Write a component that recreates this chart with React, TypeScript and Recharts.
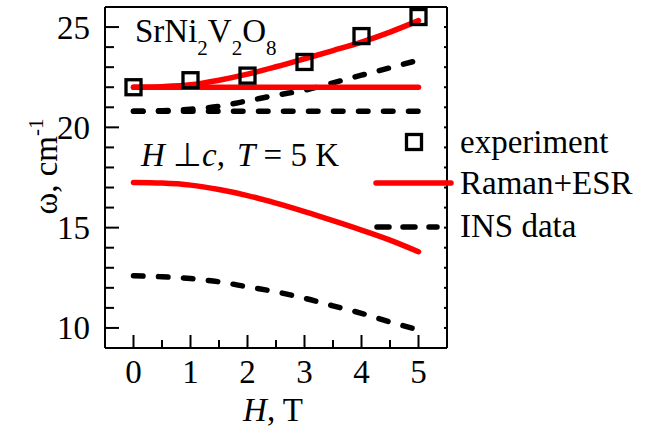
import { ComposedChart, Line, ReferenceLine, Scatter, XAxis, YAxis } from "recharts";

const FONT = "'Liberation Serif', 'Times New Roman', serif";
const RED = "#ff0000";

// experiment (open squares)
const expField = [0, 1, 2, 3, 4, 5];
const expOmega = [22.0, 22.35, 22.58, 23.26, 24.55, 25.5];

// model curves, sampled every 0.5 T
const curveField = [0, 0.5, 1, 1.5, 2, 2.5, 3, 3.5, 4, 4.5, 5];
const ramanUpper = [22.0, 22.03, 22.12, 22.35, 22.65, 23.02, 23.42, 23.83, 24.25, 24.75, 25.32];
const ramanMiddle = [22.0, 22.0, 22.0, 22.0, 22.0, 22.0, 22.0, 22.0, 22.0, 22.0, 22.0];
const ramanLower = [17.25, 17.22, 17.12, 16.9, 16.6, 16.22, 15.8, 15.35, 14.88, 14.38, 13.8];
const insUpper = [20.8, 20.83, 20.9, 21.05, 21.32, 21.6, 21.85, 22.22, 22.6, 22.97, 23.35];
const insMiddle = [20.8, 20.8, 20.8, 20.8, 20.8, 20.8, 20.8, 20.8, 20.8, 20.8, 20.8];
const insLower = [12.6, 12.55, 12.46, 12.3, 12.05, 11.8, 11.48, 11.1, 10.73, 10.3, 9.9];

// axes
const xTicks = [0, 0.5, 1, 1.5, 2, 2.5, 3, 3.5, 4, 4.5, 5];
const yTicks = [10, 11, 12, 13, 14, 15, 16, 17, 18, 19, 20, 21, 22, 23, 24, 25];

const toPoints = (ys: number[]) => curveField.map((h, i) => ({ h, w: ys[i] }));
const expData = expField.map((h, i) => ({ h, w: expOmega[i] }));

const ramanCurves = [ramanUpper, ramanMiddle, ramanLower];
const insCurves = [insUpper, insMiddle, insLower];

function BottomTick(props: any) {
    const { x, y, payload } = props;
    const major = Number.isInteger(payload.value);
    return (
        <g>
            <line x1={x} x2={x} y1={y} y2={y - (major ? 13 : 8)} stroke="#000" strokeWidth={2} />
            {major && (
                <text x={x} y={y + 35} textAnchor="middle" fontFamily={FONT} fontSize={33} fill="#000">
                    {payload.value}
                </text>
            )}
        </g>
    );
}

function LeftTick(props: any) {
    const { x, y, payload } = props;
    const major = payload.value % 5 === 0;
    return (
        <g>
            <line x1={x} x2={x + (major ? 14 : 9)} y1={y} y2={y} stroke="#000" strokeWidth={2} />
            {major && (
                <text x={x - 15} y={y} dy="0.35em" textAnchor="end" fontFamily={FONT} fontSize={33} fill="#000">
                    {payload.value}
                </text>
            )}
        </g>
    );
}

function RightTick(props: any) {
    const { x, y } = props;
    return <line x1={x} x2={x - 3} y1={y} y2={y} stroke="#000" strokeWidth={2} />;
}

function XTitle(props: any) {
    const vb = props.viewBox;
    return (
        <text x={vb.x + vb.width / 2 - 3} y={vb.y + 73} textAnchor="middle" fontFamily={FONT} fontSize={33} fill="#000">
            <tspan fontStyle="italic">H</tspan>, T
        </text>
    );
}

function YTitle(props: any) {
    const vb = props.viewBox;
    const x = vb.x + 12;
    const y = vb.y + vb.height / 2 - 11;
    return (
        <text x={x} y={y} transform={`rotate(-90, ${x}, ${y})`} textAnchor="middle" fontFamily={FONT} fontSize={33} fill="#000">
            ω, cm<tspan dy={-14} fontSize={21}>-1</tspan>
        </text>
    );
}

function SquareMark(props: any) {
    const { cx, cy } = props;
    return <rect x={cx - 7.5} y={cy - 7.5} width={15} height={15} fill="none" stroke="#000" strokeWidth={3.3} />;
}

export default function App() {
    return (
        <div style={{ position: "absolute", left: 0, top: 0, width: 646, height: 429, background: "#fff" }}>
            <ComposedChart width={646} height={429} margin={{ top: 7, right: 189, bottom: 41, left: 45 }}>
                <XAxis
                    dataKey="h"
                    type="number"
                    domain={[-0.5, 5.5]}
                    ticks={xTicks}
                    allowDataOverflow
                    height={40}
                    tickSize={0}
                    tickMargin={0}
                    tickLine={false}
                    axisLine={{ stroke: "#000", strokeWidth: 2 }}
                    tick={<BottomTick />}
                    interval={0}
                    label={{ content: XTitle }}
                />
                <YAxis
                    type="number"
                    domain={[9, 26]}
                    ticks={yTicks}
                    allowDataOverflow
                    width={60}
                    tickSize={0}
                    tickMargin={0}
                    tickLine={false}
                    axisLine={{ stroke: "#000", strokeWidth: 2 }}
                    tick={<LeftTick />}
                    interval={0}
                    label={{ content: YTitle }}
                />
                <YAxis
                    yAxisId="right"
                    orientation="right"
                    type="number"
                    domain={[9, 26]}
                    ticks={yTicks}
                    allowDataOverflow
                    width={10}
                    tickSize={0}
                    tickMargin={0}
                    tickLine={false}
                    axisLine={{ stroke: "#000", strokeWidth: 2 }}
                    tick={<RightTick />}
                    interval={0}
                />
                <ReferenceLine y={26} stroke="#000" strokeWidth={2} />
                {insCurves.map((ys, i) => (
                    <Line
                        key={`ins-${i}`}
                        data={toPoints(ys)}
                        dataKey="w"
                        type="monotone"
                        stroke="#000"
                        strokeWidth={5.5}
                        strokeDasharray="9.5 15.5"
                        strokeLinecap="round"
                        dot={false}
                        isAnimationActive={false}
                    />
                ))}
                {ramanCurves.map((ys, i) => (
                    <Line
                        key={`raman-${i}`}
                        data={toPoints(ys)}
                        dataKey="w"
                        type="monotone"
                        stroke={RED}
                        strokeWidth={5.5}
                        strokeLinecap="round"
                        dot={false}
                        isAnimationActive={false}
                    />
                ))}
                <Scatter data={expData} dataKey="w" shape={<SquareMark />} isAnimationActive={false} />
            </ComposedChart>
            <svg width={646} height={429} style={{ position: "absolute", left: 0, top: 0, pointerEvents: "none" }}>
                <g fontFamily={FONT} fill="#000">
                    <text x={135} y={42} fontSize={33}>
                        SrNi<tspan dy={13} fontSize={21}>2</tspan>
                        <tspan dy={-13}>V</tspan>
                        <tspan dy={13} fontSize={21}>2</tspan>
                        <tspan dy={-13}>O</tspan>
                        <tspan dy={13} fontSize={21}>8</tspan>
                    </text>
                    <text x={141} y={166} fontSize={33}>
                        <tspan fontStyle="italic">H</tspan> ⊥<tspan fontStyle="italic">c</tspan>,
                        <tspan x={237} fontStyle="italic">T</tspan> = 5 K
                    </text>
                    {/* legend */}
                    <rect x={406.5} y={134.5} width={15} height={15} fill="none" stroke="#000" strokeWidth={3.3} />
                    <text x={460} y={153} fontSize={33}>experiment</text>
                    <line x1={376} x2={451} y1={183} y2={183} stroke={RED} strokeWidth={5.5} strokeLinecap="round" />
                    <text x={460} y={194} fontSize={33}>Raman+ESR</text>
                    <line x1={377} x2={437} y1={227} y2={227} stroke="#000" strokeWidth={5.5} strokeDasharray="12 14" strokeLinecap="round" />
                    <text x={460} y={237} fontSize={33}>INS data</text>
                </g>
            </svg>
        </div>
    );
}
